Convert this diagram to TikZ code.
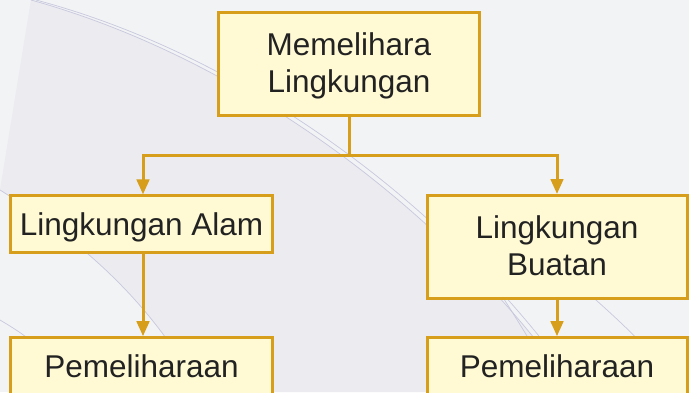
\documentclass[tikz,border=0pt]{standalone}
\usepackage{fontspec}
\setmainfont{Liberation Sans}
\usetikzlibrary{
  arrows.meta,
  positioning
}
\definecolor{boxline}{RGB}{214,158,26}
\definecolor{boxfill}{RGB}{255,250,212}
\definecolor{bglight}{RGB}{242,243,245}
\definecolor{bgdark}{RGB}{235,235,240}
\definecolor{swooshcol}{RGB}{200,200,222}
\definecolor{ink}{RGB}{34,34,34}
\tikzset{
  box/.style={
    draw=boxline, fill=boxfill, line width=3pt, text=ink,
    align=center, inner sep=0pt, minimum width=261pt,
    font=\fontsize{31.5}{37}\selectfont
  },
  onebox/.style={box, minimum height=57pt, text height=22.7pt, text depth=0pt},
  twobox/.style={box, minimum height=103pt, text depth=2.6pt},
  link/.style={draw=boxline, line width=3pt},
  tip/.style={-{Triangle[width=12.5pt, length=15pt]}},
  bothtips/.style={{Triangle[width=12.5pt, length=15pt]}-{Triangle[width=12.5pt, length=15pt]}},
  swoosh/.style={draw=swooshcol, line width=0.7pt},
}

\begin{document}
\begin{tikzpicture}[x=1pt, y=-1pt]

% --- background with faint swooshes ---
\useasboundingbox (0,0) rectangle (689,392);
\clip (0,0) rectangle (689,392);
\fill[bglight] (0,0) rectangle (689,392);
\fill[bgdark] (31,0) .. controls (230,55) and (440,200) .. (575,392)
  -- (200,392) .. controls (150,300) and (80,240) .. (0,190) -- cycle;
\draw[swoosh] (31,0) .. controls (230,55) and (440,200) .. (575,392);
\draw[swoosh] (36,0) .. controls (236,53) and (446,198) .. (581,392);
\draw[swoosh] (0,190) .. controls (80,240) and (150,300) .. (200,392);
\draw[swoosh] (0,320) .. controls (10,326) and (20,332) .. (30,340);
\draw[swoosh] (470,250) .. controls (500,290) and (530,340) .. (560,392);
\draw[swoosh] (560,268) .. controls (590,295) and (620,320) .. (650,352);

% --- boxes ---
\node[twobox] (mem) at (349,63.7) {Memelihara\\Lingkungan};
\node[onebox, minimum width=262pt] (alam) at (141.5,224.4) {Lingkungan Alam};
\node[twobox, minimum width=260pt] (buatan) at (557,247) {Lingkungan\\Buatan};
\node[onebox, minimum width=262pt] (pelalam) at (141.5,366.2) {Pemeliharaan};
\node[onebox, minimum width=260pt] (pelbuatan) at (557,366.2) {Pemeliharaan};

% --- connectors ---
\coordinate (split) at (mem.south |- 0,155.3);
\draw[link] (mem.south) -- (split);
\draw[link, bothtips] ([xshift=1.5pt]alam.north) |- (split) -| (buatan.north);
\draw[link, tip] ([xshift=1.5pt]alam.south) -- ([xshift=1.5pt]pelalam.north);
\draw[link, tip] (buatan.south) -- (pelbuatan.north);

\end{tikzpicture}
\end{document}
